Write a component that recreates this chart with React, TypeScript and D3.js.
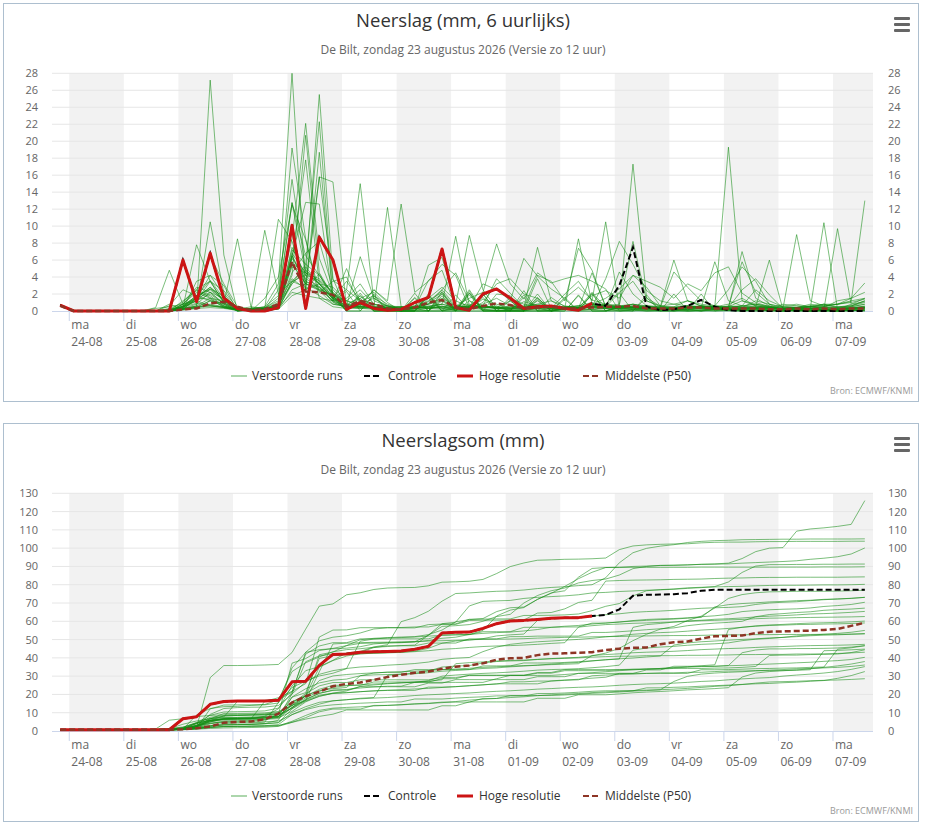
import React from 'react';
import * as d3 from 'd3';

// 6-uurlijkse neerslag (mm), eerste waarde zo 23-08 20:00, daarna elke 6 uur (60 waarden)
const firstTime = new Date(2026, 7, 23, 20);
const times = d3.range(60).map(i => d3.timeHour.offset(firstTime, 6 * i));

const dayNames = ['ma', 'di', 'wo', 'do', 'vr', 'za', 'zo', 'ma', 'di', 'wo', 'do', 'vr', 'za', 'zo', 'ma'];
const dayDates = ['24-08', '25-08', '26-08', '27-08', '28-08', '29-08', '30-08', '31-08',
    '01-09', '02-09', '03-09', '04-09', '05-09', '06-09', '07-09'];

const neerslagTicks = d3.range(0, 29, 2);
const somTicks = d3.range(0, 131, 10);

// hoge resolutie loopt 10 dagen (40 waarden)
const hogeResolutie = [0.7,
    0, 0, 0, 0, 0, 0, 0, 0,
    6.0, 1.1, 6.8, 1.5, 0.3, 0, 0, 0.4,
    10.1, 0.3, 8.7, 6.0, 0.2, 1.0, 0.3, 0.1,
    0.2, 1.0, 1.6, 7.3, 0.4, 0.1, 2.0, 2.6,
    1.5, 0.3, 0.5, 0.6, 0.3, 0.1, 0.9];

const controle = [0.7,
    0, 0, 0, 0, 0, 0, 0, 0,
    6.0, 1.1, 6.8, 1.5, 0.3, 0, 0, 0.4,
    10.1, 0.3, 8.7, 6.0, 0.2, 1.0, 0.3, 0.1,
    0.2, 1.0, 1.6, 7.3, 0.4, 0.1, 2.0, 2.6,
    1.5, 0.3, 0.5, 0.6, 0.3, 0.1, 0.9, 0.6,
    3.0, 7.5, 0.5, 0.1, 0.2, 0.6, 1.3, 0.5,
    0.1, 0, 0, 0, 0, 0, 0, 0, 0, 0, 0];

const middelste = [0.6,
    0, 0, 0, 0, 0, 0, 0, 0,
    0.2, 0.3, 0.9, 1.1, 0.5, 0.1, 0.2, 0.8,
    5.8, 2.3, 2.2, 1.9, 0.5, 1.2, 0.8, 0.3,
    0.2, 0.4, 1.0, 1.3, 0.4, 0.2, 0.6, 0.9,
    0.7, 0.3, 0.4, 0.5, 0.3, 0.3, 0.4, 0.5,
    0.5, 0.6, 0.3, 0.3, 0.3, 0.4, 0.4, 0.3,
    0.3, 0.3, 0.3, 0.2, 0.2, 0.3, 0.2, 0.3, 0.2, 0.3, 0.3];

// P50 van de neerslagsom (geen som van de P50)
const middelsteSom = [0.7,
    0.7, 0.7, 0.7, 0.7, 0.7, 0.7, 0.7, 0.7,
    1.0, 1.5, 2.5, 4.5, 5.0, 5.2, 6.5, 9.5,
    15.5, 19.0, 21.5, 24.5, 25.8, 26.5, 28.0, 29.5,
    30.8, 31.8, 32.5, 34.0, 35.2, 35.8, 37.0, 39.0,
    39.8, 40.0, 41.5, 42.3, 42.5, 42.8, 43.1, 44.3,
    45.0, 45.5, 45.7, 47.5, 48.5, 49.0, 50.5, 51.8,
    52.0, 52.2, 53.5, 54.3, 54.5, 54.7, 54.9, 55.3, 55.8, 57.5, 59.2];

// verstoorde runs
const run01 = [0.6, 0, 0, 0, 0, 0, 0, 0, 0, 0.5, 1.2, 2.0, 0.8, 0, 0.3, 0.5, 3.2, 28.0, 2.5, 4.4, 1.2, 1.5, 3.2, 0.8, 0.4, 0.3, 0.2, 1.1, 2.5, 4.5, 1.2, 0.6, 3.8, 2.1, 0.4, 4.2, 3.5, 1.2, 7.4, 4.8, 0.5, 0.2, 0.4, 0.2, 0.3, 0.1, 0.2, 0.4, 0.2, 0.4, 2.5, 3.8, 1.9, 0.3, 9.0, 1.2, 0.6, 0.8, 1.1, 13.0];
const run02 = [0.6, 0, 0, 0, 0, 0, 0, 0, 0.8, 0.2, 0.4, 27.2, 6.6, 0, 0.1, 0.2, 0.3, 6.5, 12.8, 12.6, 1.2, 5.0, 1.1, 1.8, 0.8, 0.2, 0.1, 0.9, 2.0, 0.2, 0.3, 1.0, 3.2, 3.8, 2.0, 1.5, 0.2, 0.3, 0.1, 0.2, 0.4, 4.6, 2.0, 0.6, 0.3, 0.2, 0.1, 0.5, 0.3, 0.1, 0, 0.2, 0.1, 0, 0.1, 0, 0, 0, 0.1, 0];
const run03 = [0.7, 0, 0, 0, 0, 0, 0, 0, 0, 0.8, 2.5, 1.8, 0.6, 0.2, 0, 1.5, 4.0, 12.5, 8.4, 2.2, 3.5, 4.0, 0.8, 2.5, 1.2, 12.6, 2.2, 3.5, 5.5, 4.2, 0.3, 0.5, 0.4, 0.2, 0.5, 0.8, 0.6, 0.4, 0.6, 0.5, 3.8, 8.2, 5.5, 2.4, 1.2, 0.8, 1.2, 0.6, 0.4, 0.2, 0.3, 0.1, 0.1, 0.1, 0, 0.1, 0, 0, 0, 0.1];
const run04 = [0.6, 0, 0, 0, 0, 0, 0, 0, 0, 0.4, 7.8, 3.5, 1.0, 0.2, 0.5, 0.3, 1.0, 19.2, 8.5, 1.5, 0.5, 0.3, 0.8, 1.5, 0.6, 0.2, 0.4, 3.6, 4.8, 0.4, 0.6, 1.8, 2.6, 1.2, 6.2, 4.1, 2.6, 1.5, 2.8, 1.3, 0.8, 2.2, 3.5, 1.2, 0.6, 0.1, 0.2, 0.2, 0.1, 0.2, 0.4, 0.3, 0.3, 0.3, 0.4, 0.8, 0.6, 0.8, 1.5, 3.3];
const run05 = [0.7, 0, 0, 0, 0, 0, 0, 0, 0, 0.3, 0.6, 10.5, 2.1, 0.1, 0, 0.2, 2.5, 15.5, 4.8, 3.2, 2.8, 1.2, 0.5, 0.8, 0.4, 0.5, 0.3, 5.4, 6.3, 0.8, 8.9, 2.5, 0.3, 0.2, 1.1, 0.6, 0.4, 0.4, 0.6, 1.0, 0.3, 0.5, 0.3, 0.4, 0.2, 0.3, 0.5, 0.4, 0.6, 2.5, 5.2, 3.5, 0.8, 0, 0.1, 0, 0.1, 0, 0.1, 0];
const run06 = [0.6, 0.1, 0, 0, 0, 0, 0, 0, 0, 0.2, 1.5, 4.2, 3.0, 0, 0.1, 0.2, 0.8, 3.2, 5.5, 22.3, 1.5, 3.5, 1.2, 0.2, 0.1, 0.1, 0.4, 0.8, 1.2, 0.6, 1.5, 2.2, 7.9, 3.2, 1.4, 4.5, 3.3, 3.8, 4.2, 3.5, 2.6, 0, 0.1, 0, 0, 0, 0, 0.1, 0, 0, 0, 0, 0, 0, 0, 0, 0.1, 0, 0, 0.1];
const run07 = [0.6, 0, 0, 0, 0, 0, 0, 0.3, 0.5, 0.8, 2.2, 1.5, 0.4, 0.1, 0.3, 9.5, 2.0, 3.5, 4.2, 25.5, 3.8, 0.1, 1.2, 0, 0.1, 0, 0.3, 0, 1.4, 0, 2.1, 0.2, 0, 0.1, 0, 3.8, 0.3, 2.0, 3.5, 1.2, 10.5, 0.3, 0.2, 0.1, 0.1, 0.2, 0.1, 0.1, 0.3, 0.2, 0.1, 0.2, 0.1, 0, 0.1, 0, 0, 0, 0.1, 0.1];
const run08 = [0.7, 0, 0, 0, 0, 0, 0, 0, 0, 0.2, 3.5, 4.2, 1.8, 0.2, 0.1, 0.3, 1.5, 8.5, 22.1, 6.2, 2.0, 0.8, 1.5, 2.2, 0.6, 0, 0, 1.8, 0.3, 0.1, 2.5, 0.1, 0.1, 0, 1.9, 0, 0.1, 0.2, 0.5, 1.8, 2.4, 1.5, 4.2, 2.8, 0.6, 0.4, 0.6, 0.3, 0.2, 0.2, 0.1, 0.3, 0.2, 0.1, 0, 0.1, 0.1, 0, 0.1, 0.2];
const run09 = [0.6, 0, 0, 0, 0, 0, 0, 0, 0, 0.3, 0.5, 1.2, 0.8, 0, 0.2, 0.5, 1.8, 12.7, 4.5, 3.2, 1.5, 0.6, 1.8, 0.5, 0.2, 0.2, 0.5, 1.2, 2.2, 0.5, 0.3, 1.4, 0.8, 0.3, 0.2, 0.6, 0.5, 0.4, 0.3, 0.8, 1.5, 2.6, 4.2, 3.5, 2.8, 1.5, 3.2, 2.4, 4.5, 5.2, 2.1, 1.0, 0.5, 0.1, 0.2, 0, 0, 0.1, 0.2, 0.3];
const run10 = [0.6, 0, 0, 0, 0, 0, 0, 0, 0, 0.5, 1.2, 3.5, 2.4, 0.3, 0.2, 0.1, 0.6, 6.5, 3.2, 15.8, 3.6, 2.5, 1.2, 0.4, 0.3, 0.2, 0.6, 1.5, 2.8, 1.2, 0.5, 0.8, 1.5, 0.6, 0.4, 7.5, 1.2, 0.3, 0.2, 0.6, 0.8, 0.5, 0.8, 0.4, 0.3, 0.4, 0.6, 0.5, 0.3, 0.2, 0.4, 1.2, 0.8, 0.4, 0.3, 0.6, 0.5, 0.4, 0.3, 0.6];
const run11 = [0.7, 0, 0, 0, 0, 0, 0, 0, 0.2, 1.0, 2.8, 2.2, 0.8, 8.5, 0.4, 0.2, 0.3, 4.2, 20.7, 4.5, 1.8, 0, 2.1, 0, 0, 0, 0, 0, 2.1, 0.1, 0.1, 1.6, 0, 0, 2.4, 0, 0, 0.2, 0, 2.1, 0, 0.6, 0.5, 0.4, 0.4, 0.3, 0.5, 0.4, 5.8, 1.2, 0.6, 0.4, 0.5, 0.3, 0.4, 0.2, 0.5, 0.2, 0.4, 0.5];
const run12 = [0.6, 0, 0, 0, 0, 0, 0, 0, 0, 0.2, 0.6, 1.5, 1.2, 0.2, 0.1, 0.4, 10.8, 8.2, 3.5, 2.8, 1.5, 2.5, 15.0, 1.2, 0.6, 0.2, 0.3, 0.5, 0.4, 0.3, 0.2, 0.6, 0.4, 0.3, 0.6, 0.8, 1.2, 0.6, 0.4, 0.8, 0.6, 0.5, 0.8, 0.6, 0.3, 0.2, 0.4, 0.6, 0.5, 0.8, 1.5, 0.6, 0.4, 0.3, 0.2, 0.5, 0.8, 0.5, 0.6, 1.2];
const run13 = [0.7, 0, 0, 0, 0, 0, 0, 0, 0, 0.4, 1.5, 6.5, 3.2, 0.5, 0.2, 0.1, 0.8, 6.2, 17.8, 3.2, 1.0, 0.4, 0.6, 2.5, 1.0, 0, 0, 1.5, 0, 0, 2.3, 0, 0, 1.2, 0, 0.3, 0, 0, 0, 2.0, 0, 0.4, 0.5, 0.6, 0.5, 0.5, 1.2, 0.8, 0.6, 0.4, 0.6, 2.5, 1.2, 0.5, 0.6, 0.4, 0.8, 0.4, 0.3, 0.5];
const run14 = [0.6, 0, 0, 0, 0, 0, 0, 0, 0, 0.2, 0.4, 0.8, 0.5, 0.1, 0.1, 0.2, 0.6, 5.5, 3.2, 2.5, 1.8, 0.6, 0.8, 0.4, 12.2, 0.5, 0.3, 0.6, 0.8, 0.4, 0.5, 0.6, 0.3, 0.6, 0.4, 0.5, 0.6, 0.5, 0.4, 0.8, 0.6, 0.5, 17.3, 1.5, 0.6, 0.8, 0.6, 0.4, 0.5, 0.3, 0.4, 0.6, 0.4, 0.3, 0.4, 0.5, 0.2, 0.3, 0.4, 0.5];
const run15 = [0.6, 0, 0, 0, 0, 0, 0, 0, 0, 0.3, 0.8, 2.2, 1.5, 0.2, 0.3, 0.4, 1.2, 12.8, 6.5, 4.2, 2.0, 1.2, 0.8, 0.4, 0.6, 0.4, 0.5, 0.8, 1.5, 0.6, 0.4, 3.2, 2.5, 1.5, 0.8, 0.6, 0.4, 0.5, 0.4, 0.6, 0.8, 0.6, 0.8, 0.5, 0.4, 0.3, 0.5, 0.6, 0.4, 0.5, 0.6, 0.8, 0.5, 0.3, 0.4, 0.3, 0.2, 0.2, 0.3, 0.4];
const run16 = [0.6, 0, 0, 0, 0, 0, 0, 0, 0.6, 2.5, 1.8, 1.2, 0.6, 0.2, 0.1, 0.3, 0.8, 9.8, 2.5, 18.7, 1.5, 0.6, 0.4, 0.3, 0.2, 0.3, 0.4, 0.5, 0.8, 0.4, 0.6, 0.5, 0.3, 0.2, 0.3, 0.4, 0.5, 0.4, 8.5, 0.8, 0.6, 0.3, 0.4, 0.2, 0.3, 0.2, 0.3, 0.4, 0.2, 0.3, 0.2, 0.4, 0.3, 0.1, 0.2, 0.1, 0.1, 0.1, 0.1, 0.2];
const run17 = [0.7, 0, 0, 0, 0, 0, 0, 0, 0, 0.2, 0.4, 1.2, 0.9, 0.1, 0.2, 0.3, 0.6, 7.5, 4.2, 2.6, 1.8, 1.2, 2.5, 0.8, 0.6, 0.5, 0.4, 0.8, 2.5, 0.6, 0.5, 0.4, 0.3, 0.4, 0.5, 0.6, 0.3, 0.2, 0.3, 0.5, 0.6, 0.8, 8.2, 1.2, 0.5, 0.4, 0.6, 0.5, 0.3, 0.5, 1.2, 0.8, 0.4, 0.6, 0.8, 0.5, 0.4, 0.5, 0.6, 1.0];
const run18 = [0.6, 0, 0, 0, 0, 0, 0, 0, 0, 0.5, 1.6, 2.8, 1.2, 0.3, 0.2, 0.4, 0.5, 4.5, 6.8, 8.2, 2.5, 0.8, 0.5, 0.4, 0.3, 0, 1.5, 0, 0, 0, 0, 2.0, 0, 0, 1.6, 0, 0, 0.3, 0.4, 0.5, 0.6, 0.5, 0.4, 0.6, 0.5, 6.0, 1.2, 0.6, 0.4, 0.5, 0.4, 0.3, 0.5, 0.3, 0.4, 0.5, 0.3, 0.2, 0.3, 0.4];
const run19 = [0.7, 0, 0, 0, 0, 0, 0, 0.4, 4.8, 0.8, 1.2, 0.6, 0.4, 0.2, 0.1, 0.2, 0.8, 3.8, 2.6, 15.8, 15.2, 0.4, 0.3, 0.2, 0.1, 0.2, 0.1, 0.3, 0.2, 0.2, 0.3, 0.2, 0.1, 0.1, 0.2, 0.3, 0.2, 0.2, 0.1, 0.2, 0.1, 0.1, 0.2, 0.1, 0.1, 0.1, 0, 0.1, 0.2, 0.1, 0, 0.1, 0, 0.1, 0, 0, 0.1, 0, 0.1, 0.1];
const run20 = [0.6, 0, 0, 0, 0, 0, 0, 0, 0, 0.8, 2.6, 3.5, 1.0, 0.1, 0.2, 0.3, 0.4, 6.5, 3.5, 2.5, 1.2, 0.6, 6.4, 1.5, 0.5, 0.2, 0.3, 0.4, 0.5, 0.3, 0.4, 0.5, 0.3, 0.4, 0.3, 0.2, 0.3, 0.2, 0.3, 4.5, 0.5, 0.4, 0.6, 0.3, 0.2, 0.3, 0.4, 0.5, 0.3, 0.3, 0.2, 0.4, 0.3, 0.2, 0.3, 0.2, 0.1, 0.1, 0.2, 0.3];
const run21 = [0.7, 0, 0, 0, 0, 0, 0, 0, 0, 0.6, 1.8, 3.6, 1.5, 0.3, 0.2, 0.1, 0.3, 3.2, 4.8, 3.5, 1.6, 0.5, 0.8, 0.6, 0.4, 0, 2.1, 0, 0, 0, 0, 0, 2.0, 1.8, 0, 0, 0, 0.5, 0.6, 0.4, 0.5, 0.6, 0.4, 0.5, 0.3, 0.5, 0.4, 0.6, 0.5, 19.3, 1.2, 0.6, 0.4, 0.2, 0.3, 0.1, 0.2, 0.1, 0.2, 0.3];
const run22 = [0.6, 0, 0, 0, 0, 0, 0, 0, 0, 0.2, 1.5, 2.8, 1.6, 0.1, 0.2, 0.2, 0.5, 6.8, 4.5, 3.8, 2.2, 0, 0, 1.8, 0, 0, 0, 0, 1.8, 0, 1.9, 0, 0, 0, 0, 1.5, 0, 1.6, 0, 0, 0, 0, 0.2, 0, 0.1, 0.3, 0, 0, 0.2, 0.1, 0.3, 0.5, 6.0, 0.2, 0, 0.3, 0.1, 0.2, 0.8, 1.5];
const run23 = [0.7, 0, 0, 0, 0, 0, 0, 0, 0.3, 0.4, 1.8, 2.6, 1.4, 0.2, 0.1, 0.2, 0.4, 5.8, 4.2, 3.6, 2.2, 0.8, 0.6, 0.4, 0.3, 0.4, 0.3, 0.5, 0.8, 8.8, 0.6, 0.4, 0.5, 0.3, 0.2, 0.4, 0.3, 0.2, 0.3, 0.4, 0.3, 0.2, 0, 0.3, 0, 0, 0.2, 0, 0.1, 0.1, 0.2, 0, 0.1, 0, 0.2, 0, 0.1, 0.2, 0.3, 0.4];
const run24 = [0.6, 0, 0, 0, 0, 0, 0, 0, 0, 0.6, 1.8, 2.5, 1.2, 0.1, 0.1, 0.3, 0.5, 5.2, 4.5, 3.2, 1.8, 0, 1.8, 0, 0, 0, 0, 2.0, 0, 1.9, 0, 0, 0, 0, 0, 1.6, 0, 0, 1.8, 0, 0, 0, 0, 1.9, 0, 2.0, 0, 0, 0, 0.4, 7.0, 1.5, 0.6, 0, 0.2, 0, 0.1, 0.2, 0.5, 0.8];
const run25 = [0.7, 0, 0, 0, 0, 0, 0, 0, 0, 1.2, 2.4, 1.6, 0.6, 0.1, 0.2, 0.1, 0.3, 3.5, 5.2, 3.2, 1.4, 0.4, 0.6, 0.5, 0.3, 0.3, 0.4, 0.3, 0.5, 0.4, 0.6, 0.5, 0.4, 1.2, 0, 0.4, 0, 0.4, 0.3, 2.2, 0.4, 0.3, 0.2, 0.4, 0.3, 0, 0.3, 0, 0.4, 0.3, 0, 0.2, 0, 0, 0.2, 0.3, 10.4, 0.2, 0.3, 0.4];
const run26 = [0.6, 0, 0, 0, 0, 0, 0, 0, 0, 0.8, 1.5, 2.2, 0.9, 0.1, 0.1, 0.2, 0.3, 6.2, 3.8, 2.9, 1.1, 0.3, 0.5, 0.4, 0.3, 0, 0, 1.8, 0, 0.3, 0.4, 0.5, 0.6, 0, 0, 0, 1.6, 0.5, 0.4, 0.6, 0.5, 2.1, 0, 0, 0, 0, 0, 2.0, 0, 0.1, 0.2, 0.3, 0.1, 0.2, 0.1, 0.3, 0.2, 9.7, 0.8, 1.1];
const run27 = [0.7, 0, 0, 0, 0, 0, 0, 0, 0, 0.4, 1.2, 2.6, 1.8, 0.2, 0.1, 0.2, 0.6, 7.2, 5.5, 4.2, 1.8, 0, 1.5, 0, 0, 0, 0, 0, 1.2, 0, 1.2, 0, 0, 0, 0, 1.2, 0, 1.4, 0, 0, 0, 0.4, 0.3, 0.2, 0.3, 0.3, 0.4, 0.3, 0.2, 0.3, 0.2, 0.4, 0.3, 0.3, 0.4, 0.3, 0.5, 0.4, 0.6, 1.2];
const run28 = [0.6, 0, 0, 0, 0, 0, 0, 0, 0, 0.1, 0.3, 0.4, 0.3, 0.1, 0.1, 0.2, 0.4, 2.2, 1.8, 1.5, 1.2, 2.3, 0, 0, 0, 0, 0, 0, 2.3, 0, 2.1, 0, 0, 0, 0, 2.0, 0, 0, 1.9, 0, 0, 0.5, 0.6, 0.4, 0.3, 0.4, 0.5, 0.3, 0.4, 0.5, 5.8, 2.2, 0.8, 0.5, 0.4, 0.6, 0.8, 0.8, 1.0, 1.4];
const run29 = [0.7, 0, 0, 0, 0, 0, 0, 0, 0, 0.2, 0.4, 0.6, 0.5, 0.1, 0.2, 0.1, 0.2, 1.8, 2.5, 3.2, 1.5, 0, 0, 2.0, 0, 0.4, 0.5, 0.3, 0.6, 0, 0, 2.0, 0, 1.6, 0, 0, 0, 0.3, 0.4, 0.5, 0.3, 0.4, 0.5, 0.3, 0.4, 4.6, 2.8, 1.2, 0.6, 0.4, 0.3, 0.5, 0.4, 0.3, 0.4, 0.2, 0.3, 0.3, 0.5, 0.8];
const run30 = [0.6, 0, 0, 0, 0, 0, 0, 0, 0.2, 0.5, 0.9, 0.7, 0.4, 0.2, 0.1, 0.3, 0.6, 5.6, 3.2, 2.4, 0.8, 0.6, 0.5, 0.4, 0.3, 0.5, 0.6, 0.4, 0.3, 0.4, 0.3, 0.5, 0.4, 0.3, 0.4, 0.5, 0.3, 0.4, 0.3, 0.2, 0.4, 0.5, 0.4, 0.3, 0.2, 0.3, 0.4, 0.5, 0.3, 0.6, 0.5, 0.4, 0.3, 0.8, 0.6, 0.5, 0.6, 0.8, 1.2, 1.5];
const run31 = [0.7, 0, 0, 0, 0, 0, 0, 0, 0, 0.6, 1.5, 1.4, 0.5, 0.1, 0.1, 0.2, 0.3, 3.5, 2.8, 1.8, 0.8, 0.5, 0.4, 0.3, 0.4, 0, 1.6, 0, 0, 0.5, 0.4, 0.3, 0.5, 0, 0, 1.3, 0, 0.3, 0.4, 0.5, 0.3, 0, 0, 1.6, 0, 0.3, 0.2, 0.4, 0.3, 0.3, 0.4, 0.3, 0.2, 0.4, 0.3, 0.5, 0.4, 1.2, 1.5, 2.2];
const run32 = [0.6, 0, 0, 0, 0, 0, 0, 0, 0, 0.3, 0.5, 0.6, 0.4, 0, 0.1, 0.1, 0.2, 2.5, 3.2, 2.8, 1.2, 0.4, 0.3, 0.5, 0.3, 0.3, 0.4, 0.3, 0.5, 0.6, 0.8, 0.5, 0.4, 0.5, 0.4, 0.6, 0.5, 0.4, 0.3, 0.5, 0.4, 0.3, 0.4, 0.3, 0.2, 0.3, 0.4, 0.5, 0.6, 0.4, 0.6, 0.8, 0.6, 0.2, 0.2, 0.3, 0.2, 0.2, 0.3, 0.4];

const verstoordeRuns = [run01, run02, run03, run04, run05, run06, run07, run08, run09, run10,
    run11, run12, run13, run14, run15, run16, run17, run18, run19, run20,
    run21, run22, run23, run24, run25, run26, run27, run28, run29, run30, run31, run32];

const FONT = '"Open Sans", "DejaVu Sans", sans-serif';
const GREEN = '#108a10';
const RED = '#cc1414';
const BROWN = '#8e3525';

const cumul = (a: number[]) => Array.from(d3.cumsum(a));

interface PanelProps {
    top: number;
    title: string;
    yTicks: number[];
    runs: number[][];
    ctrl: number[];
    hres: number[];
    p50: number[];
}

const Panel: React.FC<PanelProps> = ({ top, title, yTicks, runs, ctrl, hres, p50 }) => {
    const x = d3.scaleTime()
        .domain([d3.timeMinute.offset(times[0], -216), d3.timeMinute.offset(times[times.length - 1], 216)])
        .range([52, 873]);
    const y = d3.scaleLinear()
        .domain([0, d3.max(yTicks) as number])
        .range([top + 308, top + 70.3]);

    const line = d3.line<number>()
        .x((_, i) => x(times[i]))
        .y(d => y(d));

    const days = d3.timeDay.range(new Date(2026, 7, 24), new Date(2026, 8, 8));
    const [x0, x1] = x.range();
    const legendY = top + 373;

    return (
        <g>
            <rect x={3.5} y={top + 0.5} width={915} height={398} fill="#fff" stroke="#adbfcf" />
            <text x={463} y={top + 24} textAnchor="middle" fontSize={18.5} fill="#333">{title}</text>
            <text x={463} y={top + 51} textAnchor="middle" fontSize={12} fill="#666">
                De Bilt, zondag 23 augustus 2026 (Versie zo 12 uur)
            </text>
            {[0, 6, 12].map(d => (
                <rect key={d} x={894} y={top + 14 + d} width={16} height={3} rx={1} fill="#666" />
            ))}

            {days.map((d, i) => i % 2 === 0 && (
                <rect key={'b' + i} x={x(d)} y={y.range()[1]}
                    width={Math.min(x(d3.timeDay.offset(d, 1)), x1) - x(d)}
                    height={y.range()[0] - y.range()[1]} fill="#f2f2f2" />
            ))}
            {yTicks.map(t => (
                <g key={'y' + t}>
                    {t > 0 && <line x1={x0} x2={x1} y1={y(t)} y2={y(t)} stroke="#e6e6e6" />}
                    <text x={38} y={y(t) + 4} textAnchor="end" fontSize={11} fill="#666">{t}</text>
                    <text x={888} y={y(t) + 4} fontSize={11} fill="#666">{t}</text>
                </g>
            ))}
            <line x1={x0} x2={x1} y1={y(0) + 0.5} y2={y(0) + 0.5} stroke="#ccd6eb" />
            {days.map((d, i) => (
                <g key={'x' + i}>
                    <line x1={x(d)} x2={x(d)} y1={y(0)} y2={y(0) + 10} stroke="#ccd6eb" />
                    <text x={x(d) + 2} y={top + 326} fontSize={12} fill="#666">{dayNames[i]}</text>
                    <text x={x(d) + 2} y={top + 343} fontSize={12} fill="#666">{dayDates[i]}</text>
                </g>
            ))}

            {runs.map((r, i) => (
                <path key={'r' + i} d={line(r) ?? ''} fill="none" stroke={GREEN} strokeOpacity={0.55} strokeWidth={1} />
            ))}
            <path d={line(ctrl) ?? ''} fill="none" stroke="#000" strokeWidth={2} strokeDasharray="6,3" />
            <path d={line(hres) ?? ''} fill="none" stroke={RED} strokeWidth={3} strokeLinejoin="round" />
            <path d={line(p50) ?? ''} fill="none" stroke={BROWN} strokeWidth={2.5} strokeDasharray="6,3" />

            <line x1={231} x2={247} y1={legendY} y2={legendY} stroke={GREEN} strokeOpacity={0.35} strokeWidth={2} />
            <text x={252} y={legendY + 4} fontSize={12} fill="#333">Verstoorde runs</text>
            <line x1={364} x2={380} y1={legendY} y2={legendY} stroke="#000" strokeWidth={2} strokeDasharray="6,3" />
            <text x={388} y={legendY + 4} fontSize={12} fill="#333">Controle</text>
            <line x1={457} x2={473} y1={legendY} y2={legendY} stroke={RED} strokeWidth={3} />
            <text x={479} y={legendY + 4} fontSize={12} fill="#333">Hoge resolutie</text>
            <line x1={583} x2={599} y1={legendY} y2={legendY} stroke={BROWN} strokeWidth={2} strokeDasharray="6,3" />
            <text x={605} y={legendY + 4} fontSize={12} fill="#333">Middelste (P50)</text>

            <text x={913} y={top + 391} textAnchor="end" fontSize={9} fill="#999">Bron: ECMWF/KNMI</text>
        </g>
    );
};

const App: React.FC = () => {
    const somRuns = verstoordeRuns.map(cumul);
    return (
        <div style={{ position: 'absolute', left: 0, top: 0 }}>
            <svg width={925} height={824} fontFamily={FONT} style={{ display: 'block' }}>
                <rect width={925} height={824} fill="#fff" />
                <Panel top={3} title="Neerslag (mm, 6 uurlijks)" yTicks={neerslagTicks}
                    runs={verstoordeRuns} ctrl={controle} hres={hogeResolutie} p50={middelste} />
                <Panel top={423} title="Neerslagsom (mm)" yTicks={somTicks}
                    runs={somRuns} ctrl={cumul(controle)} hres={cumul(hogeResolutie)} p50={middelsteSom} />
            </svg>
        </div>
    );
};

export default App;
